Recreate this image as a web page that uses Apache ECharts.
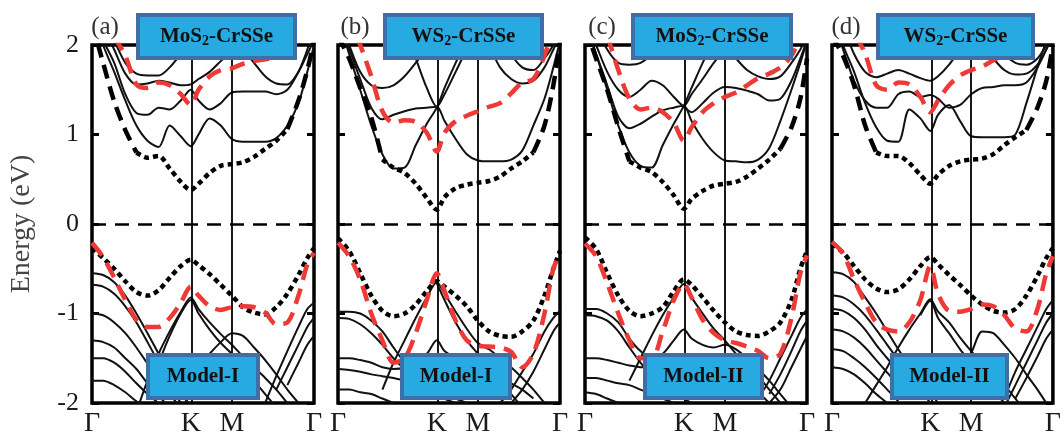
<!DOCTYPE html>
<html>
<head>
<meta charset="utf-8">
<script src="https://cdn.jsdelivr.net/npm/echarts@6/dist/echarts.min.js"></script>
<style>
html,body{margin:0;padding:0;background:#fff;}
#chart{width:1064px;height:438px;}
</style>
</head>
<body>
<div id="chart"></div>
<script>
const _ = null;
// k-path sampling (fraction of path Γ-K-M-Γ)
const K_GRID = [0, 0.05, 0.10, 0.15, 0.20, 0.25, 0.30, 0.35, 0.40, 0.445, 0.48, 0.53, 0.58, 0.63, 0.68, 0.73, 0.78, 0.83, 0.88, 0.93, 0.97, 1.0];
const TICK_POS = [0, 0.445, 0.63, 1];
const TICK_LABELS = ['Γ', 'K', 'M', 'Γ'];
const Y_TICKS = [-2, -1, 0, 1, 2];
const PANEL_LETTERS = ['(a)', '(b)', '(c)', '(d)'];
const TOP_TITLES = [['MoS', '2', '-CrSSe'], ['WS', '2', '-CrSSe'], ['MoS', '2', '-CrSSe'], ['WS', '2', '-CrSSe']];
const MODELS = ['Model-I', 'Model-I', 'Model-II', 'Model-II'];

// ---------- Panel (a) MoS2-CrSSe Model-I ----------
const A_DOT_C = [_,_,_,_,0.80,0.74,0.76,0.62,0.47,0.38,0.45,0.57,0.65,0.67,0.69,0.75,0.84,0.93,1.06];
const A_DASH_C = [2.25,1.8,1.37,1.05,0.80,_,_,_,_,_,_,_,_,_,_,_,_,_,1.06,1.38,1.72,2.05];
const A_RED_C = [2.6,2.35,2.1,1.88,1.56,1.52,1.58,1.55,1.45,1.33,1.5,1.65,1.72,1.74,1.79,1.82,1.84,1.86,1.92,2.05,2.2,2.4];
const A_DOT_V = [-0.27,-0.38,-0.5,-0.64,-0.76,-0.80,-0.74,-0.6,-0.47,-0.40,-0.46,-0.56,-0.68,-0.8,-0.93,-0.99,-1.01,-0.93,-0.78,-0.57,-0.38,-0.27];
const A_RED_V = [-0.21,-0.37,-0.6,-0.85,-1.07,-1.15,-1.15,-1.05,-0.88,-0.7,-0.8,-0.92,-0.96,-0.93,-0.92,-0.93,-0.99,-1.12,-1.1,-0.8,-0.45,-0.32];
const A_C1 = [2.4,2.0,1.7,1.38,1.1,0.93,0.86,1.1,0.98,0.87,1.0,1.18,1.1,0.95,0.92,0.92,0.92,0.96,1.1,1.35,1.7,2.0];
const A_C2 = [2.3,2.05,1.8,1.45,1.24,1.22,1.3,1.28,1.38,1.5,1.38,1.28,1.35,1.47,1.48,1.48,1.48,1.45,1.5,1.7,1.95,2.2];
const A_C3 = [2.4,2.2,1.95,1.68,1.56,1.57,1.6,1.58,1.55,1.56,1.62,1.7,1.82,1.93,2.05,2.2];
const A_C4 = [_,_,_,_,_,_,_,_,_,_,_,_,_,2.1,1.95,1.8,1.65,1.57,1.56,1.7,1.9,2.05];
const A_C5 = [2.5,2.3,2.05,1.8,1.68,1.66,1.66,1.75,1.9,2.05,2.2];
const A_V1 = [_,_,_,_,-2.1,-1.75,-1.45,-1.2,-0.98,-0.82,-0.95,-1.1,-1.23,-1.35,-1.48,-1.6,-1.72,-1.85,-2.0,-2.15];
const A_V2 = [_,_,_,_,_,-1.85,-1.55,-1.25,-1.0,-0.85,-1.0,-1.18,-1.33,-1.45,-1.6,-1.75,-1.9,-2.05];
const A_V3 = [-0.55,-0.57,-0.65,-0.8,-1.0,-1.22,-1.45,-1.7,-1.9,-2.02];
const A_V4 = [-0.68,-0.7,-0.78,-0.92,-1.1,-1.32,-1.55,-1.8,-2.0];
const A_V5 = [-1.0,-1.02,-1.1,-1.22,-1.38,-1.56,-1.72,-1.9,-2.05];
const A_V6 = [-1.3,-1.32,-1.38,-1.5,-1.62,-1.78,-1.92,-2.05];
const A_V7 = [-1.5,-1.5,-1.55,-1.65,-1.78,-1.9,-2.0,-2.1];
const A_V8 = [-1.75,-1.75,-1.8,-1.88,-1.98,-2.05];
const A_V9 = [_,_,_,_,_,_,_,_,_,_,_,-1.45,-1.32,-1.22,-1.25,-1.38,-1.52,-1.68,-1.85,-2.0];
const A_V10 = [_,_,_,_,_,_,_,_,_,_,_,_,_,_,_,_,-2.0,-1.7,-1.42,-1.15,-0.95,-0.88];
const A_V11 = [_,_,_,_,_,_,_,_,_,_,_,_,_,_,_,_,_,-1.85,-1.6,-1.35,-1.15,-1.05];
const A_V12 = [_,_,_,_,_,_,_,_,_,_,_,_,_,_,_,_,_,_,-1.8,-1.55,-1.35,-1.25];

// ---------- Panel (b) WS2-CrSSe Model-I ----------
const B_DOT_C = [_,_,_,_,0.72,0.63,0.57,0.45,0.29,0.16,0.3,0.4,0.44,0.46,0.48,0.53,0.62,0.7,0.8];
const B_DASH_C = [2.1,1.85,1.52,1.19,0.72,_,_,_,_,_,_,_,_,_,_,_,_,_,0.8,1.1,1.55,2.05];
const B_RED_C = [2.6,2.3,2.0,1.65,1.26,1.13,1.16,1.14,1.02,0.81,1.02,1.15,1.21,1.26,1.31,1.35,1.46,1.58,1.62,1.88,2.2,2.4];
const B_DOT_V = [-0.16,-0.3,-0.55,-0.8,-0.97,-1.03,-1.0,-0.9,-0.75,-0.64,-0.7,-0.8,-0.92,-1.08,-1.2,-1.25,-1.26,-1.2,-1.08,-0.8,-0.5,-0.3];
const B_RED_V = [-0.21,-0.36,-0.62,-1.0,-1.3,-1.55,-1.5,-1.22,-0.85,-0.55,-0.75,-1.08,-1.3,-1.36,-1.37,-1.38,-1.43,-1.6,-1.45,-1.0,-0.5,-0.33];
const B_C1 = [2.3,1.9,1.5,1.1,0.78,0.62,0.63,0.88,1.12,1.3,1.52,1.8,2.05,2.3];
const B_C2 = [2.2,1.95,1.62,1.3,1.17,1.22,1.26,1.29,1.3,1.31,1.15,0.95,0.78,0.71,0.7,0.7,0.72,0.82,1.1,1.4,1.75,2.05];
const B_C3 = [2.3,2.0,1.7,1.55,1.52,1.55,1.65,1.8,1.95,2.1];
const B_C4 = [_,_,_,_,_,_,2.15,1.85,1.52,1.31,1.45,1.7,1.95,2.15];
const B_C5 = [_,_,_,_,_,_,_,_,_,_,_,_,_,2.3,2.0,1.75,1.62,1.57,1.6,1.75,1.95,2.1];
const B_C6 = [_,_,_,_,_,_,_,_,_,_,_,_,_,_,_,2.15,1.9,1.75,1.72,1.85,2.0,2.15];
const B_V1 = [_,_,_,_,-1.85,-1.55,-1.3,-1.05,-0.82,-0.65,-0.78,-0.98,-1.17,-1.33,-1.4,-1.5,-1.6,-1.72,-1.85,-2.0];
const B_V2 = [-0.98,-0.98,-1.0,-1.08,-1.2,-1.38,-1.55,-1.7,-1.8,-1.85,-1.9,-1.95,-2.0];
const B_V3 = [-1.05,-1.06,-1.12,-1.22,-1.35,-1.5,-1.62,-1.72,-1.8,-1.88,-1.95,-2.0];
const B_V4 = [-1.5,-1.5,-1.52,-1.55,-1.6,-1.62,-1.6,-1.52,-1.45,-1.3,-1.42,-1.5,-1.58,-1.62,-1.65,-1.7,-1.78,-1.85,-1.95];
const B_V5 = [-1.62,-1.63,-1.65,-1.68,-1.7,-1.72,-1.75,-1.78,-1.8,-1.82,-1.85,-1.88,-1.9];
const B_V6 = [-1.85,-1.85,-1.88,-1.9,-1.95,-2.0];
const B_V7 = [_,_,_,_,_,_,_,_,_,-0.66,-0.85,-1.1,-1.3,-1.45,-1.6,-1.75,-1.9,-2.05];
const B_V8 = [_,_,_,_,_,_,_,_,_,_,_,_,_,_,_,-2.0,-1.85,-1.65,-1.45,-1.2,-1.05,-0.97];
const B_V9 = [_,_,_,_,_,_,_,_,_,_,_,_,_,_,_,_,-2.0,-1.85,-1.65,-1.4,-1.2,-1.1];

// ---------- Panel (c) MoS2-CrSSe Model-II ----------
const C_DOT_C = [_,_,_,_,0.7,0.63,0.58,0.47,0.32,0.17,0.28,0.37,0.43,0.45,0.47,0.53,0.62,0.72,0.84];
const C_DASH_C = [2.2,1.85,1.5,1.08,0.7,_,_,_,_,_,_,_,_,_,_,_,_,_,0.84,1.08,1.4,1.85];
const C_RED_C = [2.6,2.35,2.1,1.72,1.4,1.28,1.3,1.25,1.13,0.93,1.08,1.25,1.35,1.42,1.47,1.55,1.63,1.68,1.75,1.88,2.1,2.3];
const C_DOT_V = [-0.15,-0.28,-0.55,-0.8,-0.97,-1.03,-1.0,-0.93,-0.75,-0.62,-0.68,-0.82,-0.97,-1.1,-1.2,-1.24,-1.25,-1.2,-1.1,-0.85,-0.5,-0.3];
const C_RED_V = [-0.22,-0.36,-0.66,-1.0,-1.3,-1.5,-1.5,-1.2,-0.85,-0.67,-0.82,-1.07,-1.22,-1.3,-1.33,-1.37,-1.42,-1.5,-1.45,-1.05,-0.55,-0.35];
const C_C1 = [2.3,1.9,1.5,1.1,0.8,0.65,0.63,0.88,1.12,1.32,1.52,1.8,2.05,2.3];
const C_C2 = [2.2,1.9,1.55,1.2,1.07,1.12,1.2,1.27,1.3,1.32,1.15,0.95,0.8,0.71,0.7,0.69,0.72,0.85,1.15,1.5,1.8,2.05];
const C_C3 = [2.3,2.0,1.7,1.5,1.42,1.5,1.6,1.55,1.42,1.32,1.45,1.62,1.8,1.95,2.1];
const C_C4 = [_,_,_,_,_,_,_,_,_,1.32,1.25,1.35,1.47,1.53,1.52,1.49,1.45,1.38,1.4,1.6,1.85,2.05];
const C_C5 = [_,_,_,_,_,_,_,_,_,_,_,_,2.2,2.0,1.85,1.72,1.65,1.62,1.65,1.8,1.95,2.1];
const C_C6 = [2.4,2.2,1.95,1.8,1.78,1.8,1.9,2.05];
const C_V1 = [_,_,_,_,-1.75,-1.5,-1.25,-1.02,-0.82,-0.67,-0.82,-1.0,-1.17,-1.3,-1.45,-1.58,-1.7,-1.85,-2.0];
const C_V2 = [-0.95,-0.95,-1.0,-1.1,-1.28,-1.42,-1.5,-1.45,-1.3,-1.18,-1.28,-1.35,-1.38,-1.35,-1.4,-1.5,-1.62,-1.75,-1.9,-2.05];
const C_V3 = [-1.02,-1.03,-1.08,-1.2,-1.38,-1.55,-1.7,-1.82,-1.9,-1.95,-2.0];
const C_V4 = [-1.5,-1.5,-1.52,-1.55,-1.58,-1.6,-1.6,-1.58,-1.55,-1.52,-1.55,-1.6,-1.62,-1.65,-1.7,-1.78,-1.88,-2.0];
const C_V5 = [-1.72,-1.72,-1.75,-1.78,-1.8,-1.85,-1.9,-1.95,-2.0];
const C_V6 = [-1.88,-1.9,-1.95,-2.0];
const C_V7 = [_,_,_,_,_,_,_,_,_,_,_,_,_,_,_,_,-1.95,-1.75,-1.5,-1.25,-1.05,-0.95];
const C_V8 = [_,_,_,_,_,_,_,_,_,_,_,_,_,_,_,_,_,-1.9,-1.68,-1.42,-1.2,-1.08];
const C_V9 = [_,_,_,_,_,_,_,_,_,_,_,_,_,_,_,_,_,-2.0,-1.85,-1.6,-1.4,-1.25];

// ---------- Panel (d) WS2-CrSSe Model-II ----------
const D_DOT_C = [_,_,_,_,0.8,0.76,0.76,0.68,0.55,0.45,0.55,0.65,0.7,0.72,0.73,0.78,0.88,0.97,1.05];
const D_DASH_C = [2.1,1.88,1.55,1.1,0.8,_,_,_,_,_,_,_,_,_,_,_,_,_,1.05,1.3,1.6,2.0];
const D_RED_C = [2.6,2.4,2.15,1.9,1.55,1.5,1.58,1.56,1.42,1.25,1.38,1.55,1.66,1.72,1.76,1.83,1.9,2.05,2.2,2.35,2.45,2.5];
const D_DOT_V = [-0.22,-0.32,-0.47,-0.62,-0.72,-0.76,-0.73,-0.62,-0.47,-0.37,-0.45,-0.57,-0.68,-0.8,-0.9,-0.97,-0.99,-0.95,-0.8,-0.58,-0.38,-0.27];
const D_RED_V = [-0.2,-0.33,-0.62,-0.88,-1.1,-1.18,-1.2,-1.1,-0.85,-0.47,-0.78,-0.97,-0.98,-0.95,-0.9,-0.92,-1.02,-1.17,-1.2,-0.95,-0.55,-0.36];
const D_C1 = [2.4,2.0,1.7,1.35,1.08,0.93,0.92,1.28,1.18,1.04,1.22,1.33,1.15,0.98,0.97,0.97,0.97,1.0,1.35,1.75,2.05,2.3];
const D_C2 = [2.3,1.95,1.6,1.38,1.3,1.3,1.45,1.48,1.42,1.44,1.4,1.3,1.33,1.45,1.52,1.53,1.55,1.55,1.58,1.75,1.95,2.15];
const D_C3 = [2.4,2.2,1.9,1.7,1.64,1.68,1.72,1.68,1.63,1.6,1.65,1.78,1.95,2.1];
const D_C4 = [_,_,_,_,_,_,_,_,_,_,_,_,_,2.2,2.0,1.85,1.72,1.67,1.68,1.78,1.95,2.1];
const D_C5 = [_,_,_,_,_,_,_,_,_,_,_,_,_,_,_,2.1,1.9,1.8,1.78,1.85,2.0,2.15];
const D_V1 = [_,_,_,-2.0,-1.8,-1.6,-1.38,-1.18,-1.0,-0.84,-0.98,-1.1,-1.27,-1.42,-1.55,-1.68,-1.8,-1.95,-2.1];
const D_V2 = [_,_,_,_,_,_,_,_,-1.02,-0.86,-1.05,-1.22,-1.4,-1.55,-1.7,-1.85,-2.0];
const D_V3 = [_,_,_,_,_,_,_,_,_,_,_,_,-1.6,-1.44,-1.2,-1.22,-1.35,-1.5,-1.68,-1.85,-2.0];
const D_V4 = [-0.54,-0.56,-0.65,-0.82,-1.0,-1.2,-1.4,-1.58,-1.75,-1.88,-2.0];
const D_V5 = [-0.8,-0.82,-0.9,-1.02,-1.18,-1.35,-1.52,-1.68,-1.85,-2.0];
const D_V6 = [-0.95,-0.97,-1.05,-1.18,-1.35,-1.5,-1.65,-1.8,-1.95];
const D_V7 = [-1.18,-1.2,-1.27,-1.38,-1.52,-1.66,-1.8,-1.95];
const D_V8 = [-1.4,-1.42,-1.5,-1.6,-1.72,-1.85,-1.98];
const D_V9 = [-1.6,-1.62,-1.68,-1.78,-1.9,-2.0];
const D_V10 = [_,_,_,_,_,_,_,_,_,_,_,_,_,_,_,_,-1.95,-1.65,-1.4,-1.15,-0.95,-0.85];
const D_V11 = [_,_,_,_,_,_,_,_,_,_,_,_,_,_,_,_,-2.05,-1.8,-1.55,-1.3,-1.1,-1.0];
const D_V12 = [_,_,_,_,_,_,_,_,_,_,_,_,_,_,_,_,_,-1.95,-1.72,-1.48,-1.28,-1.18];

const PANELS = [
  {solid:[A_C1,A_C2,A_C3,A_C4,A_C5,A_V1,A_V2,A_V3,A_V4,A_V5,A_V6,A_V7,A_V8,A_V9,A_V10,A_V11,A_V12], dot:[A_DOT_C,A_DOT_V], dash:[A_DASH_C], red:[A_RED_C,A_RED_V]},
  {solid:[B_C1,B_C2,B_C3,B_C4,B_C5,B_C6,B_V1,B_V2,B_V3,B_V4,B_V5,B_V6,B_V7,B_V8,B_V9], dot:[B_DOT_C,B_DOT_V], dash:[B_DASH_C], red:[B_RED_C,B_RED_V]},
  {solid:[C_C1,C_C2,C_C3,C_C4,C_C5,C_C6,C_V1,C_V2,C_V3,C_V4,C_V5,C_V6,C_V7,C_V8,C_V9], dot:[C_DOT_C,C_DOT_V], dash:[C_DASH_C], red:[C_RED_C,C_RED_V]},
  {solid:[D_C1,D_C2,D_C3,D_C4,D_C5,D_V1,D_V2,D_V3,D_V4,D_V5,D_V6,D_V7,D_V8,D_V9,D_V10,D_V11,D_V12], dot:[D_DOT_C,D_DOT_V], dash:[D_DASH_C], red:[D_RED_C,D_RED_V]}
];

// ---------- layout ----------
const FONT = '"Liberation Serif", "DejaVu Serif", "Times New Roman", serif';
const GRID_LEFT = [92, 338, 585, 832];
const GRID_W = 222, GRID_TOP = 45, GRID_H = 358;
const TOP_BOX = [[138,15,157,43],[385,15,157,43],[633,15,158,43],[878,15,155,43]];
const BOT_BOX = [[148,355,110,43],[402,355,108,43],[645,355,117,43],[892,355,115,43]];
const LETTER_POS = [[105,27],[355,27],[602,27],[846,27]];

const STYLES = {
  solid: {color:'#111', width:2, type:'solid'},
  dot:   {color:'#000', width:4.5, type:[5,4]},
  dash:  {color:'#000', width:4.5, type:[14,8]},
  red:   {color:'#ee3a36', width:4.5, type:[16,9]}
};

const grids = [], xAxes = [], yAxes = [], series = [], graphic = [];
PANELS.forEach((p, i) => {
  grids.push({left: GRID_LEFT[i], top: GRID_TOP, width: GRID_W, height: GRID_H,
    show: true, borderColor: '#000', borderWidth: 3.5, backgroundColor: 'transparent'});
  xAxes.push({type:'value', gridIndex:i, min:0, max:1,
    axisLine:{show:false}, axisTick:{show:false}, splitLine:{show:false},
    axisLabel:{customValues: TICK_POS, margin: 7, fontFamily: FONT, fontSize: 28, color:'#1a1a1a',
      formatter: v => { const j = TICK_POS.findIndex(t => Math.abs(t - v) < 1e-6); return j >= 0 ? TICK_LABELS[j] : ''; }}
  });
  const tick = {show:true, inside:true, length:7, lineStyle:{color:'#000', width:3}, customValues: Y_TICKS};
  yAxes.push({type:'value', gridIndex:i, min:-2, max:2, interval:1, position:'left',
    axisLine:{show:false}, axisTick: tick, splitLine:{show:false},
    axisLabel:{show: i === 0, customValues: Y_TICKS, margin: 13, fontFamily: FONT, fontSize: 26, color:'#1a1a1a'},
    name: i === 0 ? 'Energy (eV)' : '', nameLocation:'middle', nameGap: 56,
    nameTextStyle:{fontFamily: FONT, fontSize: 28, color:'#444'}
  });
  yAxes.push({type:'value', gridIndex:i, min:-2, max:2, interval:1, position:'right',
    axisLine:{show:false}, axisTick: tick, splitLine:{show:false}, axisLabel:{show:false}});

  const mk = (arr, st) => ({
    type:'line', xAxisIndex:i, yAxisIndex:2*i, silent:true, symbol:'none', smooth:0.3,
    clip:true, animation:false, lineStyle: STYLES[st], z: st === 'solid' ? 3 : (st === 'red' ? 6 : 5),
    data: K_GRID.map((k, j) => [k, (arr[j] === undefined || arr[j] === null) ? '-' : arr[j]])
  });
  // reference lines (K, M and Fermi level)
  series.push({type:'line', xAxisIndex:i, yAxisIndex:2*i, silent:true, symbol:'none', data:[], z:2,
    markLine:{silent:true, symbol:['none','none'], label:{show:false}, animation:false,
      data:[
        {xAxis: TICK_POS[1], lineStyle:{color:'#000', width:1.8, type:'solid'}},
        {xAxis: TICK_POS[2], lineStyle:{color:'#000', width:1.8, type:'solid'}},
        {yAxis: 0, lineStyle:{color:'#000', width:2.5, type:[14,9]}}
      ]}
  });
  p.solid.forEach(a => series.push(mk(a, 'solid')));
  p.dash.forEach(a => series.push(mk(a, 'dash')));
  p.dot.forEach(a => series.push(mk(a, 'dot')));
  p.red.forEach(a => series.push(mk(a, 'red')));

  // annotation boxes
  const tb = TOP_BOX[i], bb = BOT_BOX[i], t = TOP_TITLES[i];
  graphic.push({type:'rect', z:100, shape:{x:tb[0], y:tb[1], width:tb[2], height:tb[3]},
    style:{fill:'#27a9e1', stroke:'#3f6fa6', lineWidth:4}});
  graphic.push({type:'text', z:101, x: tb[0] + tb[2]/2, y: tb[1] + tb[3]/2,
    style:{text:'{a|' + t[0] + '}{s|' + t[1] + '}{a|' + t[2] + '}', align:'center', verticalAlign:'middle',
      rich:{a:{fontFamily:FONT, fontWeight:'bold', fontSize:21, fill:'#111', lineHeight:24},
            s:{fontFamily:FONT, fontWeight:'bold', fontSize:14, fill:'#111', lineHeight:24, padding:[9,0,0,0]}}}});
  graphic.push({type:'rect', z:100, shape:{x:bb[0], y:bb[1], width:bb[2], height:bb[3]},
    style:{fill:'#27a9e1', stroke:'#3f6fa6', lineWidth:4}});
  graphic.push({type:'text', z:101, x: bb[0] + bb[2]/2, y: bb[1] + bb[3]/2,
    style:{text: MODELS[i], align:'center', verticalAlign:'middle', fontFamily:FONT, fontWeight:'bold', fontSize:21, fill:'#111'}});
  graphic.push({type:'text', z:101, x: LETTER_POS[i][0], y: LETTER_POS[i][1],
    style:{text: PANEL_LETTERS[i], align:'center', verticalAlign:'middle', fontFamily:FONT, fontSize:25, fill:'#333'}});
});

const chart = echarts.init(document.getElementById('chart'), null, {renderer:'canvas'});
chart.setOption({
  animation:false, backgroundColor:'#fff',
  grid: grids, xAxis: xAxes, yAxis: yAxes, series: series, graphic: graphic
});
</script>
</body>
</html>
